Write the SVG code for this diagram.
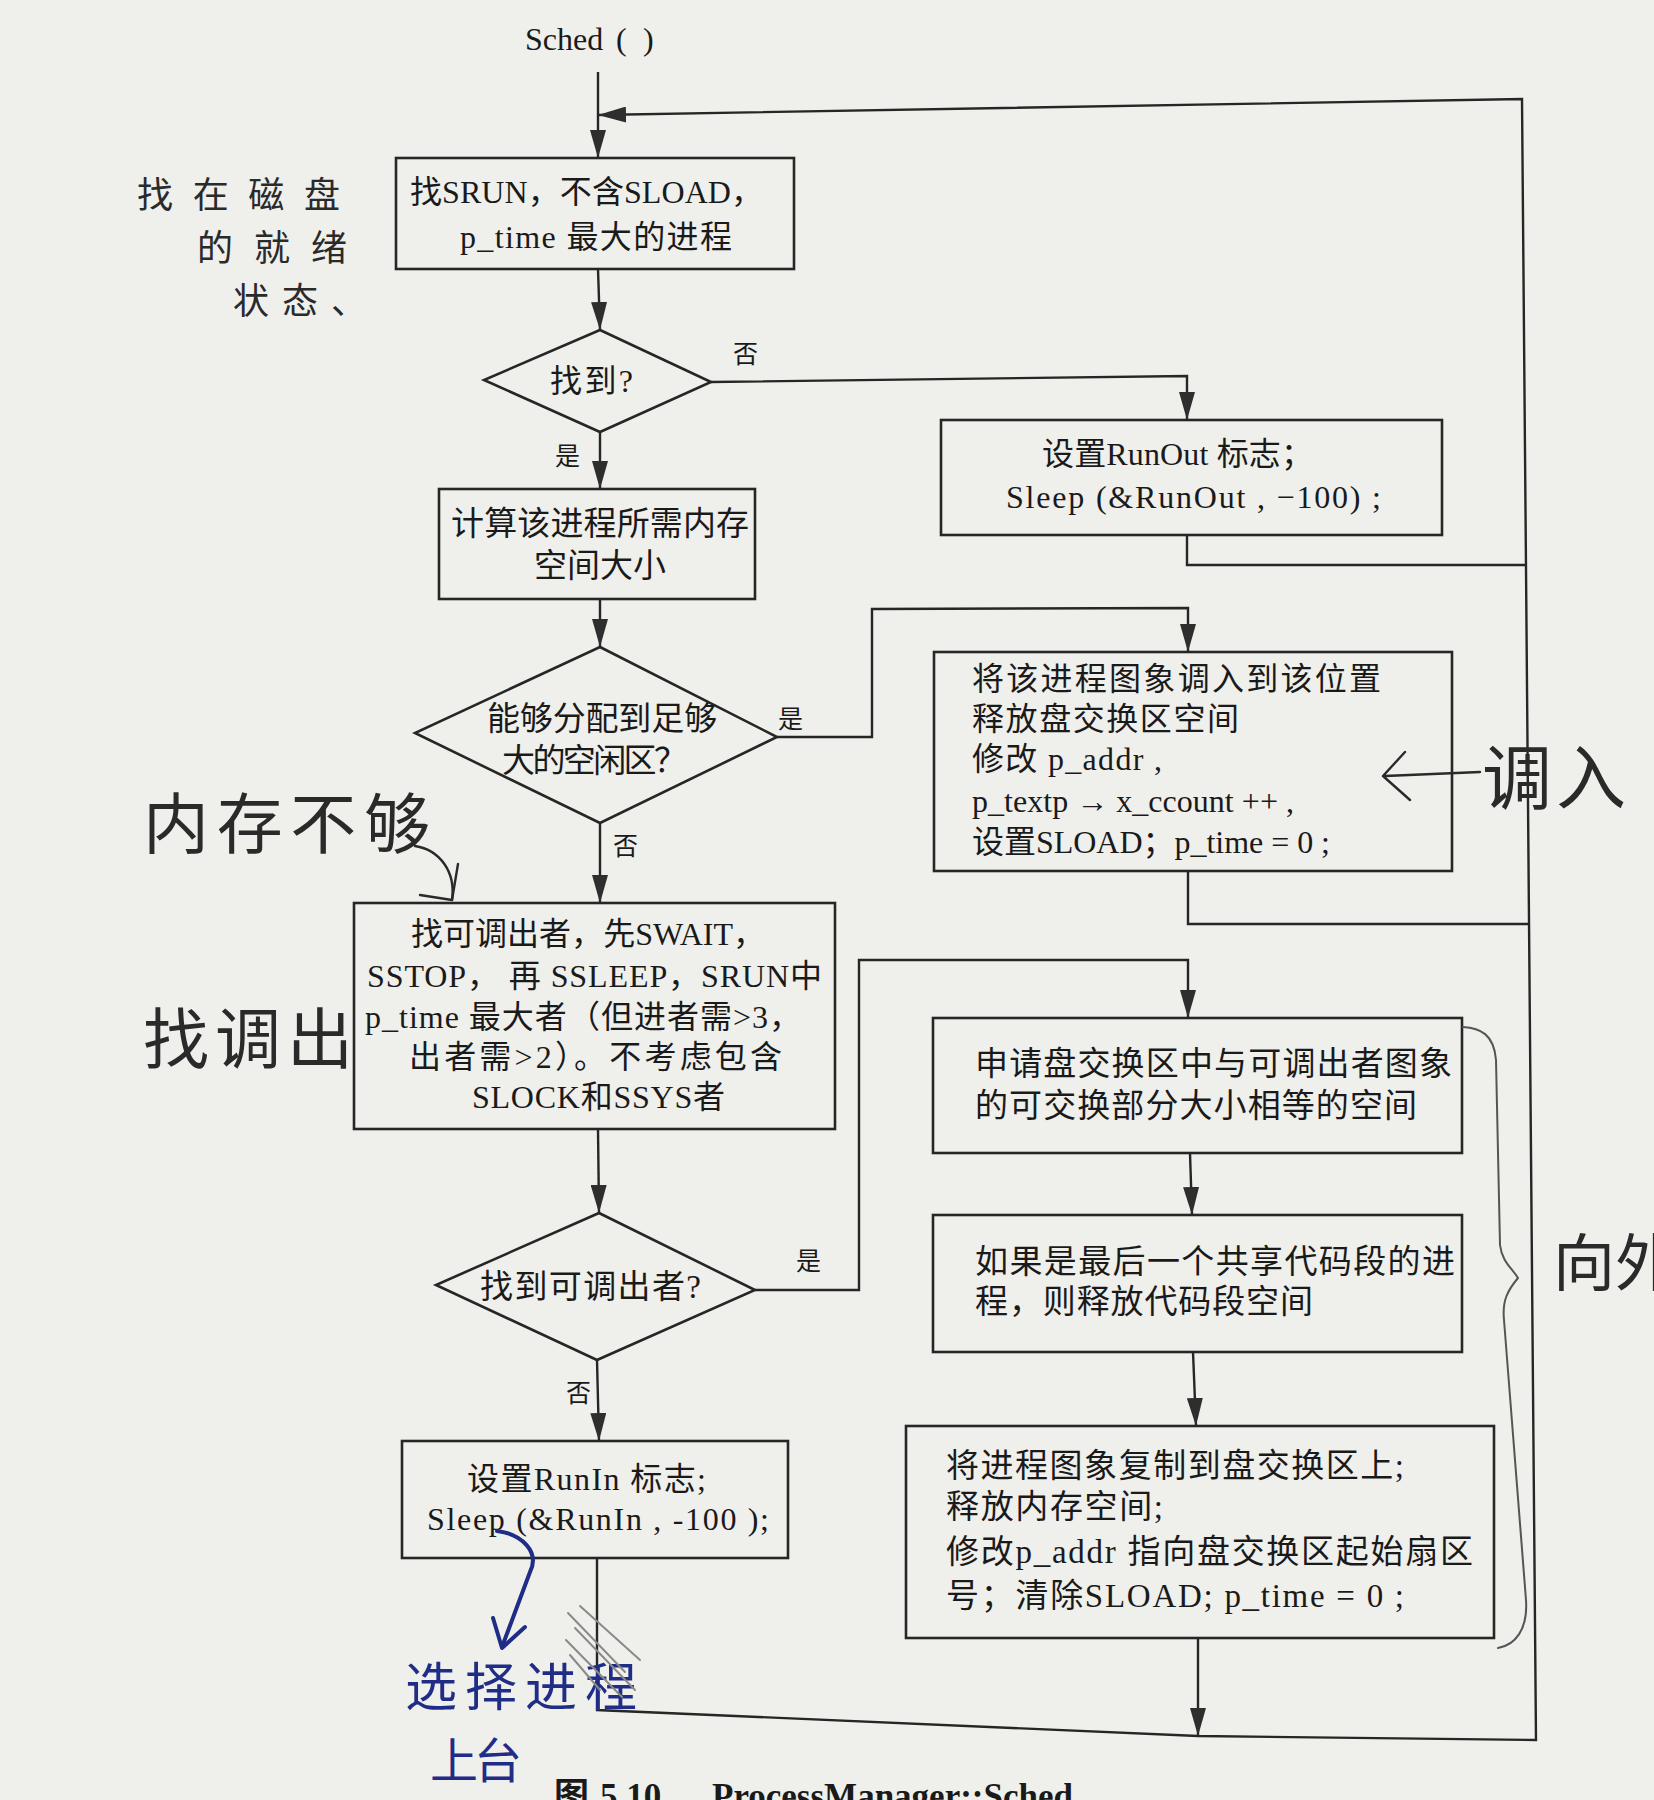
<svg xmlns="http://www.w3.org/2000/svg" width="1654" height="1800" viewBox="0 0 1654 1800">
  <style>
    .bg { fill: #efefec; }
    .box { fill: none; stroke: #262626; stroke-width: 2.6; }
    .wire { fill: none; stroke: #262626; stroke-width: 2.4; }
    .t { font-family: "Liberation Serif", "Noto Sans CJK SC", serif; font-size: 32px; fill: #1a1a1a; }
    .lbl { font-family: "Liberation Serif", "Noto Sans CJK SC", serif; font-size: 25px; fill: #1a1a1a; }
    .cap { font-family: "Liberation Serif", "Noto Sans CJK SC", serif; font-size: 35px; font-weight: bold; fill: #1a1a1a; }
    .hand { font-family: "Noto Sans CJK SC", sans-serif; fill: #2a2a2a; }
    .pen { fill: none; stroke: #2a2a2a; stroke-width: 2.4; stroke-linecap: round; stroke-linejoin: round; }
    .blue { fill: #1f2d86; }
    .bluepen { fill: none; stroke: #1f2d86; stroke-width: 4; stroke-linecap: round; stroke-linejoin: round; }
    .hatch { fill: none; stroke: #8a8a8a; stroke-width: 2; stroke-linecap: round; }
  </style>
  <defs>
    <marker id="arrow" viewBox="0 0 28 16" refX="28" refY="8" markerWidth="28" markerHeight="16" markerUnits="userSpaceOnUse" orient="auto">
      <path d="M0,0 L28,8 L0,16 Z" fill="#2e2e2e"/>
    </marker>
  </defs>

  <rect class="bg" x="0" y="0" width="1654" height="1800"/>

  <!-- connectors -->
  <g id="connectors">
    <path class="wire" d="M598,72 L598,158" marker-end="url(#arrow)"/>
    <path class="wire" d="M598,269 L600,330" marker-end="url(#arrow)"/>
    <path class="wire" d="M600,432 L600,489" marker-end="url(#arrow)"/>
    <path class="wire" d="M711,382 L1187,376 L1187,420" marker-end="url(#arrow)"/>
    <path class="wire" d="M1187,535 L1187,565 L1526,565"/>
    <path class="wire" d="M600,599 L600,647" marker-end="url(#arrow)"/>
    <path class="wire" d="M777,737 L872,737 L872,609 L1188,608 L1188,652" marker-end="url(#arrow)"/>
    <path class="wire" d="M1188,871 L1188,924 L1529,924"/>
    <path class="wire" d="M600,823 L600,903" marker-end="url(#arrow)"/>
    <path class="wire" d="M598,1129 L599,1213" marker-end="url(#arrow)"/>
    <path class="wire" d="M755,1290 L859,1290 L859,960 L1188,960 L1188,1018" marker-end="url(#arrow)"/>
    <path class="wire" d="M1190,1153 L1192,1215" marker-end="url(#arrow)"/>
    <path class="wire" d="M1193,1352 L1196,1426" marker-end="url(#arrow)"/>
    <path class="wire" d="M597,1360 L599,1441" marker-end="url(#arrow)"/>
    <path class="wire" d="M1198,1638 L1198,1736" marker-end="url(#arrow)"/>
    <path class="wire" d="M597,1558 L597,1710 L1198,1736 L1536,1740 L1522,99 L598,115" marker-end="url(#arrow)"/>
  </g>

  <!-- branch labels -->
  <g id="branch-labels">
    <text class="lbl" x="733" y="363">否</text>
    <text class="lbl" x="555" y="465">是</text>
    <text class="lbl" x="778" y="728">是</text>
    <text class="lbl" x="613" y="855">否</text>
    <text class="lbl" x="796" y="1270">是</text>
    <text class="lbl" x="566" y="1402">否</text>
  </g>

  <g id="start">
    <text class="t" x="525" y="50"><tspan x="525">Sched</tspan><tspan x="616">(</tspan><tspan x="643">)</tspan></text>
  </g>

  <g id="find-srun">
    <rect class="box" x="396" y="158" width="398" height="111"/>
    <text class="t" x="410" y="203" textLength="353" lengthAdjust="spacing">找SRUN，不含SLOAD，</text>
    <text class="t" x="460" y="248" textLength="272" lengthAdjust="spacing">p_time 最大的进程</text>
  </g>

  <g id="found">
    <polygon class="box" points="600,330 711,382 600,432 484,380"/>
    <text class="t" x="550" y="392" textLength="83" lengthAdjust="spacing">找到?</text>
  </g>

  <g id="calc-size">
    <rect class="box" x="439" y="489" width="316" height="110"/>
    <text class="t" style="font-size:33px" x="451" y="535" textLength="298" lengthAdjust="spacing">计算该进程所需内存</text>
    <text class="t" style="font-size:33px" x="534" y="577" textLength="132" lengthAdjust="spacing">空间大小</text>
  </g>

  <g id="runout">
    <rect class="box" x="941" y="420" width="501" height="115"/>
    <text class="t" x="1042" y="465" textLength="271" lengthAdjust="spacing">设置RunOut 标志；</text>
    <text class="t" x="1006" y="508" textLength="375" lengthAdjust="spacing">Sleep (&amp;RunOut , −100) ;</text>
  </g>

  <g id="enough-space">
    <polygon class="box" points="600,647 777,737 600,823 415,733"/>
    <text class="t" style="font-size:33px" x="487" y="730" textLength="230" lengthAdjust="spacing">能够分配到足够</text>
    <text class="t" style="font-size:33px" x="502" y="772" textLength="185" lengthAdjust="spacing">大的空闲区？</text>
  </g>

  <g id="swap-in">
    <rect class="box" x="934" y="652" width="518" height="219"/>
    <text class="t" x="972" y="690" textLength="409" lengthAdjust="spacing">将该进程图象调入到该位置</text>
    <text class="t" x="972" y="730" textLength="267" lengthAdjust="spacing">释放盘交换区空间</text>
    <text class="t" x="972" y="770" textLength="190" lengthAdjust="spacing">修改 p_addr ,</text>
    <text class="t" x="972" y="812" textLength="322" lengthAdjust="spacing">p_textp → x_ccount ++ ,</text>
    <text class="t" x="972" y="853" textLength="358" lengthAdjust="spacing">设置SLOAD；p_time = 0 ;</text>
  </g>

  <g id="find-swap-out">
    <rect class="box" x="354" y="903" width="481" height="226"/>
    <text class="t" x="411" y="945" textLength="354" lengthAdjust="spacing">找可调出者，先SWAIT，</text>
    <text class="t" x="367" y="987" textLength="455" lengthAdjust="spacing">SSTOP， 再 SSLEEP，SRUN中</text>
    <text class="t" x="365" y="1028" textLength="436" lengthAdjust="spacing">p_time 最大者（但进者需&gt;3，</text>
    <text class="t" x="409" y="1068" textLength="373" lengthAdjust="spacing">出者需&gt;2）。不考虑包含</text>
    <text class="t" x="472" y="1108" textLength="253" lengthAdjust="spacing">SLOCK和SSYS者</text>
  </g>

  <g id="found-swap-out">
    <polygon class="box" points="599,1213 755,1290 597,1360 436,1285"/>
    <text class="t" style="font-size:33px" x="480" y="1298" textLength="221" lengthAdjust="spacing">找到可调出者?</text>
  </g>

  <g id="alloc-swap">
    <rect class="box" x="933" y="1018" width="529" height="135"/>
    <text class="t" style="font-size:33px" x="975" y="1075" textLength="477" lengthAdjust="spacing">申请盘交换区中与可调出者图象</text>
    <text class="t" style="font-size:33px" x="975" y="1117" textLength="442" lengthAdjust="spacing">的可交换部分大小相等的空间</text>
  </g>

  <g id="free-text">
    <rect class="box" x="933" y="1215" width="529" height="137"/>
    <text class="t" style="font-size:33px" x="975" y="1273" textLength="480" lengthAdjust="spacing">如果是最后一个共享代码段的进</text>
    <text class="t" style="font-size:33px" x="975" y="1313" textLength="338" lengthAdjust="spacing">程，则释放代码段空间</text>
  </g>

  <g id="runin">
    <rect class="box" x="402" y="1441" width="386" height="117"/>
    <text class="t" x="467" y="1490" textLength="239" lengthAdjust="spacing">设置RunIn 标志;</text>
    <text class="t" x="427" y="1530" textLength="342" lengthAdjust="spacing">Sleep (&amp;RunIn , -100 );</text>
  </g>

  <g id="swap-out">
    <rect class="box" x="906" y="1426" width="588" height="212"/>
    <text class="t" style="font-size:33px" x="946" y="1477" textLength="458" lengthAdjust="spacing">将进程图象复制到盘交换区上;</text>
    <text class="t" style="font-size:33px" x="946" y="1518" textLength="217" lengthAdjust="spacing">释放内存空间;</text>
    <text class="t" style="font-size:33px" x="946" y="1563" textLength="527" lengthAdjust="spacing">修改p_addr 指向盘交换区起始扇区</text>
    <text class="t" style="font-size:33px" x="946" y="1607" textLength="458" lengthAdjust="spacing">号；清除SLOAD; p_time = 0 ;</text>
  </g>

  <!-- figure caption, running off the bottom edge -->
  <text class="cap" y="1808"><tspan x="554">图</tspan><tspan x="600">5.10</tspan><tspan x="712">ProcessManager::Sched</tspan></text>

  <!-- pencil notes in the margins -->
  <g id="notes">
    <text class="hand" style="font-size:36px" x="137" y="208" textLength="203" lengthAdjust="spacing">找在磁盘</text>
    <text class="hand" style="font-size:36px" x="197" y="261" textLength="150" lengthAdjust="spacing">的就绪</text>
    <text class="hand" style="font-size:36px" x="233" y="314" textLength="134" lengthAdjust="spacing">状态、</text>

    <text class="hand" style="font-size:66px" x="143" y="848" textLength="287" lengthAdjust="spacing">内存不够</text>
    <path class="pen" d="M415,846 C440,850 456,872 452,900"/>
    <path class="pen" d="M458,864 L452,900 L420,895"/>

    <text class="hand" style="font-size:66px" x="143" y="1063" textLength="210" lengthAdjust="spacing">找调出</text>

    <path class="pen" d="M1480,772 L1385,776 M1405,752 L1383,776 L1410,800"/>
    <text class="hand" style="font-size:70px" x="1482" y="804" textLength="144" lengthAdjust="spacing">调入</text>

    <path class="pen" style="stroke:#555;stroke-width:2" d="M1463,1027 C1480,1028 1494,1034 1496,1060 L1500,1245 C1502,1262 1512,1268 1518,1278 C1508,1290 1502,1300 1504,1320 L1526,1600 C1528,1630 1515,1645 1498,1648"/>
    <text class="hand" style="font-size:62px" x="1553" y="1286">向外</text>
  </g>

  <!-- ink note at the bottom left -->
  <g id="ink-note">
    <path class="bluepen" d="M497,1531 C522,1534 540,1552 530,1572 L502,1647"/>
    <path class="bluepen" d="M493,1618 L502,1648 L525,1627"/>
    <text class="hand blue" style="font-size:52px" x="405" y="1706" textLength="232" lengthAdjust="spacing">选择进程</text>
    <text class="hand blue" style="font-size:48px" x="430" y="1778" textLength="92" lengthAdjust="spacing">上台</text>
    <path class="hatch" d="M568,1613 L625,1672 M575,1628 L635,1690 M566,1640 L622,1697 M580,1606 L640,1660 M570,1655 L600,1690"/>
  </g>
</svg>
